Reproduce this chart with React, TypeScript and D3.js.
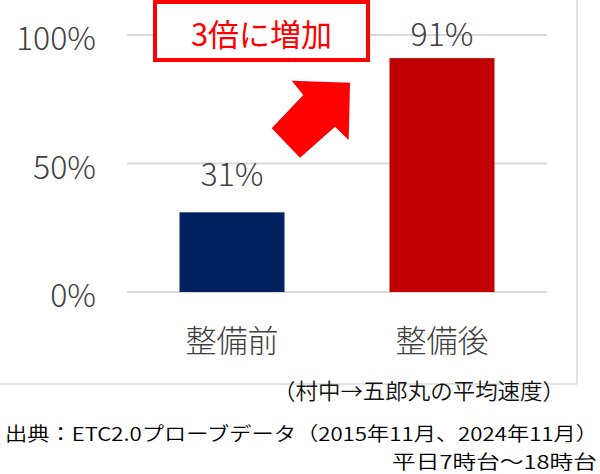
import React from "react";
import * as d3 from "d3";

const categories = ["整備前", "整備後"];
const values = [0.31, 0.91];
const valueLabels = ["31%", "91%"];
const yTicks = [0, 0.5, 1];
const annotationText = "3倍に増加";
const subtitle = "（村中→五郎丸の平均速度）";
const sourceLine1 = "出典：ETC2.0プローブデータ（2015年11月、2024年11月）";
const sourceLine2 = "平日7時台～18時台";

const barColors = ["#002060", "#C00000"];
const labelOffsets = [40, 26];

const W = 600;
const H = 474;
const JP = "'Noto Sans CJK JP', 'Noto Sans', sans-serif";

export default function App() {
  const x = d3.scaleBand<string>().domain(categories).range([127, 547]).paddingInner(0.5).paddingOuter(0.25);
  const y = d3.scaleLinear().domain([0, 1]).range([292, 35]);
  const fmt = d3.format(".0%");

  // arrow annotation shape
  const arrowPts: [number, number][] = [
    [291.7, 80.7], [350, 82.7], [348.7, 140], [335, 126.7], [300, 157.7], [271.7, 128.3], [303.3, 95],
  ];

  return (
    <svg width={W} height={H} style={{ position: "absolute", left: 0, top: 0, background: "#fff" }}>
      {/* chart frame */}
      <line x1={577} x2={577} y1={0} y2={384} stroke="#c8c8c8" strokeWidth={1} />
      <line x1={0} x2={577} y1={384} y2={384} stroke="#c8c8c8" strokeWidth={1} />

      {/* gridlines */}
      {yTicks.map((t) => (
        <line key={t} x1={127} x2={547} y1={y(t)} y2={y(t)} stroke="#d9d9d9" strokeWidth={2} />
      ))}
      {yTicks.map((t) => (
        <text key={"l" + t} x={96} y={y(t) + 1} textAnchor="end" dominantBaseline="central"
          fontFamily={JP} fontSize={32} fontWeight={300} fill="#404040">{fmt(t)}</text>
      ))}

      {/* bars */}
      {categories.map((c, i) => (
        <rect key={c} x={x(c)} y={y(values[i])} width={x.bandwidth()} height={y(0) - y(values[i])} fill={barColors[i]} />
      ))}
      {categories.map((c, i) => (
        <text key={"v" + c} x={(x(c) as number) + x.bandwidth() / 2} y={y(values[i]) - labelOffsets[i]}
          textAnchor="middle" dominantBaseline="central" fontFamily={JP} fontSize={32} fontWeight={300} fill="#404040">
          {valueLabels[i]}
        </text>
      ))}
      {categories.map((c) => (
        <text key={"c" + c} x={(x(c) as number) + x.bandwidth() / 2} y={338} textAnchor="middle" dominantBaseline="central"
          fontFamily={JP} fontSize={31} fontWeight={300} fill="#404040">{c}</text>
      ))}

      {/* annotation box */}
      <rect x={155} y={2} width={213} height={58} fill="#fff" stroke="#ff0000" strokeWidth={4} />
      <text x={261.5} y={32} textAnchor="middle" dominantBaseline="central" fontFamily={JP} fontSize={31}
        fontWeight={400} fill="#ff0000">{annotationText}</text>

      {/* arrow */}
      <polygon points={arrowPts.map((p) => p.join(",")).join(" ")} fill="#ff0000" />

      {/* subtitle & source */}
      <text x={273} y={389} dominantBaseline="central" fontFamily={JP} fontSize={22} fontWeight={350} fill="#111"
        textLength={292} lengthAdjust="spacingAndGlyphs">{subtitle}</text>
      <text x={5} y={432} dominantBaseline="central" fontFamily={JP} fontSize={19} fontWeight={350} fill="#000"
        textLength={593} lengthAdjust="spacingAndGlyphs">{sourceLine1}</text>
      <text x={597} y={460} textAnchor="end" dominantBaseline="central" fontFamily={JP} fontSize={19} fontWeight={350} fill="#000"
        textLength={205} lengthAdjust="spacingAndGlyphs">{sourceLine2}</text>
    </svg>
  );
}
